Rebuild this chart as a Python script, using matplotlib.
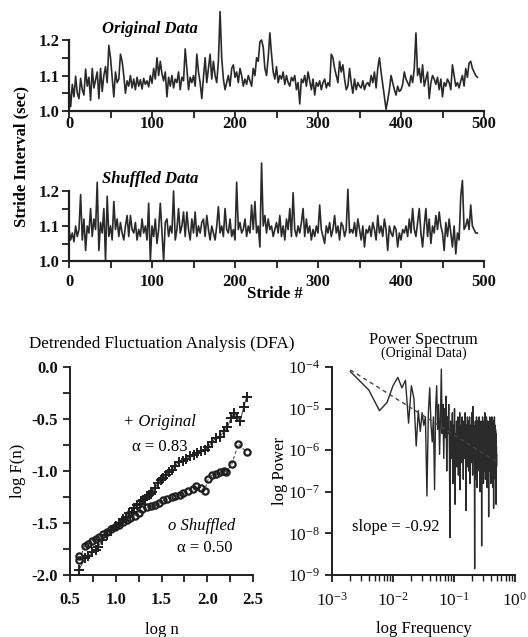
import numpy as np
import matplotlib
matplotlib.use("Agg")
import matplotlib.pyplot as plt
from matplotlib.ticker import MultipleLocator, FixedLocator, NullFormatter, LogLocator

# ---------------- data ----------------
# stride intervals in ms, every 2nd stride (0, 2, 4, ... 492)
orig_ms = [
    1068, 1012, 1075, 1040, 1098, 1050, 1035, 1092, 1060, 1045,
    1118, 1070, 1095, 1030, 1120, 1065, 1088, 1110, 1035, 1120,
    1055, 1100, 1125, 1080, 1185, 1150, 1095, 1040, 1110, 1080,
    1090, 1160, 1140, 1100, 1050, 1085, 1070, 1100, 1065, 1090,
    1060, 1095, 1070, 1088, 1062, 1092, 1075, 1085, 1068, 1100,
    1078, 1120, 1090, 1150, 1100, 1140, 1105, 1085, 1110, 1040,
    1095, 1070, 1100, 1065, 1090, 1080, 1110, 1060, 1095, 1085,
    1175, 1120, 1060, 1095, 1080, 1100, 1070, 1160, 1110, 1080,
    1035, 1095, 1150, 1080, 1120, 1160, 1090, 1140, 1100, 1080,
    1140, 1280, 1150, 1090, 1060, 1080, 1100, 1070, 1120, 1130,
    1095, 1110, 1080, 1120, 1100, 1070, 1090, 1075, 1100, 1085,
    1070, 1120, 1100, 1150, 1140, 1195, 1200, 1180, 1120, 1100,
    1150, 1220, 1160, 1110, 1090, 1125, 1080, 1100, 1090, 1110,
    1075, 1100, 1080, 1070, 1095, 1085, 1100, 1060, 1080, 1020,
    1090, 1080, 1100, 1070, 1110, 1085, 1060, 1090, 1045, 1080,
    1070, 1085, 1060, 1080, 1090, 1065, 1080, 1070, 1160, 1150,
    1120, 1100, 1080, 1140, 1110, 1130, 1090, 1060, 1070, 1120,
    1080, 1050, 1090, 1060, 1080, 1070, 1065, 1085, 1060, 1075,
    1080, 1070, 1100, 1080, 1110, 1065, 1120, 1150, 1110, 1075,
    1040, 1005, 1030, 1060, 1100, 1080, 1060, 1045, 1070, 1055,
    1060, 1075, 1110, 1090, 1080, 1070, 1100, 1080, 1120, 1220,
    1100, 1120, 1080, 1130, 1070, 1090, 1110, 1035, 1080, 1100,
    1090, 1075, 1095, 1060, 1090, 1040, 1080, 1070, 1090, 1080,
    1060, 1130, 1100, 1070, 1080, 1065, 1085, 1100, 1070, 1120,
    1095, 1135, 1140, 1120, 1110, 1100, 1095,
]
shuf_ms = [
    1090, 1060, 1080, 1055, 1100, 1070, 1090, 1190, 1060, 1120,
    1030, 1100, 1080, 1150, 1070, 1120, 1090, 1225, 1030, 1110,
    1080, 1150, 1000, 1185, 1070, 1100, 1060, 1170, 1090, 1120,
    1070, 1110, 1080, 1060, 1100, 1130, 1070, 1130, 1090, 1080,
    1110, 1060, 1090, 1070, 1120, 1080, 1100, 1060, 1165, 1000,
    1100, 1070, 1120, 1050, 1090, 1165, 1080, 1000, 1110, 1120,
    1070, 1100, 1080, 1200, 1060, 1090, 1150, 1080, 1100, 1140,
    1070, 1140, 1090, 1060, 1120, 1080, 1140, 1070, 1100, 1080,
    1110, 1120, 1070, 1130, 1090, 1060, 1100, 1080, 1060, 1100,
    1155, 1080, 1100, 1070, 1150, 1090, 1080, 1120, 1070, 1090,
    1060, 1225, 1090, 1110, 1080, 1090, 1120, 1070, 1100, 1080,
    1160, 1090, 1170, 1080, 1100, 1040, 1280, 1100, 1130, 1080,
    1120, 1090, 1100, 1070, 1090, 1110, 1080, 1130, 1070, 1100,
    1060, 1120, 1090, 1150, 1070, 1195, 1090, 1070, 1100, 1080,
    1110, 1150, 1070, 1120, 1080, 1100, 1060, 1090, 1070, 1100,
    1080, 1160, 1090, 1070, 1050, 1100, 1080, 1110, 1070, 1090,
    1130, 1080, 1100, 1060, 1110, 1100, 1070, 1090, 1205, 1080,
    1090, 1080, 1110, 1070, 1120, 1090, 1060, 1100, 1040, 1090,
    1080, 1100, 1070, 1110, 1090, 1060, 1130, 1080, 1100, 1070,
    1120, 1090, 1030, 1100, 1080, 1070, 1100, 1090, 1040, 1080,
    1060, 1090, 1080, 1100, 1070, 1120, 1080, 1150, 1090, 1070,
    1110, 1150, 1080, 1040, 1100, 1150, 1070, 1120, 1050, 1100,
    1080, 1130, 1090, 1140, 1100, 1080, 1030, 1110, 1070, 1120,
    1080, 1040, 1100, 1020, 1080, 1060, 1185, 1230, 1090, 1100,
    1120, 1090, 1160, 1100, 1090, 1080, 1080,
]
stride_step = 2

# DFA (log n, log F(n))
orig_logn = [0.60, 0.66, 0.70, 0.74, 0.78, 0.81, 0.85, 0.90, 0.95, 1.00,
             1.04, 1.08, 1.11, 1.15, 1.18, 1.20, 1.23, 1.26, 1.28, 1.30,
             1.32, 1.34, 1.36, 1.38, 1.40, 1.43, 1.46, 1.49, 1.52, 1.55,
             1.58, 1.61, 1.65, 1.69, 1.73, 1.77, 1.81, 1.85, 1.89, 1.93,
             1.97, 2.01, 2.05, 2.10, 2.14, 2.18, 2.22, 2.26, 2.29, 2.33,
             2.36, 2.40, 2.43]
orig_logF = [-1.95, -1.84, -1.82, -1.78, -1.76, -1.73, -1.66, -1.62, -1.57, -1.53,
             -1.50, -1.46, -1.44, -1.40, -1.39, -1.36, -1.33, -1.32, -1.29, -1.28,
             -1.27, -1.24, -1.23, -1.22, -1.20, -1.16, -1.12, -1.09, -1.07, -1.04,
             -1.01, -0.99, -0.95, -0.91, -0.90, -0.88, -0.86, -0.85, -0.83, -0.81,
             -0.80, -0.77, -0.72, -0.68, -0.67, -0.62, -0.58, -0.49, -0.44, -0.48,
             -0.52, -0.38, -0.29]
shuf_logn = [0.60, 0.60, 0.66, 0.70, 0.74, 0.78, 0.82, 0.86, 0.90, 0.95,
             0.99, 1.04, 1.08, 1.12, 1.16, 1.21, 1.25, 1.29, 1.34, 1.38,
             1.43, 1.47, 1.52, 1.56, 1.61, 1.65, 1.70, 1.74, 1.79, 1.84,
             1.88, 1.93, 1.97, 2.01, 2.05, 2.10, 2.14, 2.18, 2.21, 2.27,
             2.34, 2.43]
shuf_logF = [-1.82, -1.86, -1.72, -1.70, -1.67, -1.65, -1.63, -1.61, -1.59, -1.56,
             -1.54, -1.52, -1.49, -1.47, -1.45, -1.43, -1.40, -1.37, -1.35, -1.34,
             -1.33, -1.31, -1.28, -1.27, -1.25, -1.24, -1.23, -1.21, -1.19, -1.17,
             -1.14, -1.16, -1.19, -1.08, -1.04, -1.03, -1.01, -1.00, -1.01, -0.93,
             -0.74, -0.82]

# power spectrum: log10 power at frequency k/500, k = 1..250
spec_logP = [
    -4.11, -4.55, -5.05, -4.85, -4.45, -4.25, -4.50, -4.32, -5.35, -4.45,
    -4.75, -5.90, -5.05, -5.55, -5.10, -5.40, -5.20, -7.10, -5.10, -4.50,
    -5.40, -5.80, -5.20, -6.95, -5.00, -4.45, -5.50, -4.90, -6.10, -5.20,
    -4.05, -5.60, -4.90, -6.20, -5.00, -5.70, -4.70, -6.50, -5.20, -5.60,
    -4.90, -6.00, -8.10, -5.30,
    -5.5, -6.2, -5.1, -6.8, -5.4, -5.9, -5.0, -7.3, -5.6, -6.1,
    -5.3, -6.4, -5.8, -5.2, -6.6, -5.5, -6.0, -5.1, -6.95, -5.7,
    -5.4, -6.3, -5.9, -5.2, -6.1, -5.6, -6.7, -5.3, -5.9, -6.2,
    -5.5, -5.1, -6.0, -5.7, -7.45, -5.4, -6.2, -5.6, -5.2, -6.4,
    -5.8, -5.3, -6.5, -5.6, -6.0, -5.2, -6.8, -5.7, -5.4, -6.1,
    -5.9, -5.5, -6.3, -5.1, -6.0, -5.6, -6.6, -4.95, -5.8, -6.2,
    -5.4, -6.0, -5.7, -6.4, -8.85, -5.5, -6.1, -5.3, -6.7, -5.8,
    -5.6, -6.2, -5.2, -6.0, -5.5, -6.9, -5.7, -5.3, -6.3, -5.9,
    -5.4, -6.1, -5.8, -6.5, -5.2, -6.0, -5.6, -6.3, -5.5, -7.0,
    -5.7, -6.2, -5.3, -6.0, -5.8, -6.6, -5.4, -8.3, -5.9, -6.1,
    -5.5, -6.4, -5.2, -6.0, -5.7, -6.2, -5.4, -6.8, -5.6, -5.9,
    -6.3, -5.3, -6.0, -5.6, -6.5, -5.1, -5.9, -6.2, -5.5, -6.7,
    -5.8, -5.4, -6.1, -5.7, -6.4, -5.2, -6.0, -5.6, -6.3, -5.5,
    -6.9, -5.8, -5.3, -6.2, -5.7, -6.0, -5.4, -6.6, -5.6, -6.1,
    -7.6, -5.5, -6.2, -5.3, -5.9, -6.4, -5.7, -6.0, -5.2, -6.5,
    -5.8, -5.6, -6.2, -5.4, -6.0, -5.7, -6.8, -5.5, -6.1, -5.3,
    -6.3, -5.9, -5.6, -6.4, -5.2, -6.1, -5.8, -6.6, -5.5, -6.0,
    -5.7, -6.2, -5.4, -6.9, -5.9, -5.6, -6.3, -5.3, -7.4, -5.8,
    -6.0, -5.5, -6.4, -5.7, -6.1, -5.2, -6.5, -5.8, -6.0, -5.6,
    -6.3, -5.4, -6.1, -5.9, -6.7, -5.5, -6.2, -5.7, -6.0, -5.6,
    -7.3, -5.8, -6.2, -5.9, -6.4, -6.1,
]
n_samples = 500
fit_intercept = -4.07   # log10 power at f = 0.002
fit_slope = -0.92

# ---------------- style ----------------
plt.rcParams['font.family'] = ['Liberation Serif', 'DejaVu Serif']
plt.rcParams['mathtext.fontset'] = 'stix'
INK = '#1e1e1e'
W, H = 528, 637

fig = plt.figure(figsize=(W / 100, H / 100), dpi=100)


def rect(x0, x1, ytop, ybot):
    return [x0 / W, 1 - ybot / H, (x1 - x0) / W, (ybot - ytop) / H]


def style(ax, lw=1.6):
    for s in ('top', 'right'):
        ax.spines[s].set_visible(False)
    for s in ('left', 'bottom'):
        ax.spines[s].set_linewidth(lw)
        ax.spines[s].set_color(INK)
    ax.tick_params(which='both', direction='out', length=5, width=1.3, color=INK,
                   labelcolor='#111')


def ts_panel(ax, vals, label, label_y, xpad):
    v = np.array(vals) / 1000.0
    x = np.arange(len(v)) * stride_step
    ax.plot(x, v, color='#2a2a2a', lw=1.2)
    ax.set_xlim(0, 500)
    ax.set_ylim(1.0, 1.3)
    ax.spines['left'].set_bounds(1.0, 1.2)
    style(ax)
    ax.xaxis.set_major_locator(MultipleLocator(100))
    ax.xaxis.set_minor_locator(MultipleLocator(50))
    ax.yaxis.set_major_locator(FixedLocator([1.0, 1.1, 1.2]))
    ax.yaxis.set_minor_locator(FixedLocator([1.05, 1.15]))
    ax.set_yticklabels(['1.0', '1.1', '1.2'])
    for lab in ax.get_xticklabels() + ax.get_yticklabels():
        lab.set_fontweight('bold')
        lab.set_fontsize(12)
    ax.tick_params(axis='x', pad=xpad)
    ax.tick_params(axis='y', pad=2)
    ax.text(0.08, label_y, label, transform=ax.transAxes, ha='left', va='center',
            fontsize=12, fontweight='bold', style='italic')


ax1 = fig.add_axes(rect(69, 484, 4.5, 111))
ts_panel(ax1, orig_ms, 'Original Data', 0.77, -1.5)
ax2 = fig.add_axes(rect(69, 484, 156, 261))
ts_panel(ax2, shuf_ms, 'Shuffled Data', 0.78, 4.5)
fig.text(275 / W, 1 - 294 / H, 'Stride #', ha='center', va='center', fontsize=12,
         fontweight='bold')
fig.text(21 / W, 1 - 156 / H, 'Stride Interval (sec)', ha='center', va='center',
         rotation=90, fontsize=12, fontweight='bold')

# ---------------- DFA ----------------
ax3 = fig.add_axes(rect(70, 253, 367, 575))
ax3.plot(orig_logn, orig_logF, color='#555', lw=0.8, zorder=2)
ax3.plot(orig_logn, orig_logF, ls='none', marker='+', ms=7.5, mew=1.4, color=INK, zorder=3)
ax3.plot(shuf_logn, shuf_logF, color='#555', lw=0.8, ls=(0, (3, 2)), zorder=2)
ax3.plot(shuf_logn, shuf_logF, ls='none', marker='o', ms=4.5, mfc='none', mew=1.6,
         color=INK, zorder=3)
ax3.set_xlim(0.5, 2.5)
ax3.set_ylim(-2.0, 0.0)
style(ax3, lw=1.4)
ax3.xaxis.set_major_locator(FixedLocator([0.5, 1.0, 1.5, 2.0, 2.5]))
ax3.xaxis.set_minor_locator(MultipleLocator(0.25))
ax3.yaxis.set_major_locator(FixedLocator([-2.0, -1.5, -1.0, -0.5, 0.0]))
ax3.yaxis.set_minor_locator(MultipleLocator(0.25))
ax3.set_xticklabels(['0.5', '1.0', '1.5', '2.0', '2.5'])
ax3.set_yticklabels(['-2.0', '-1.5', '-1.0', '-0.5', '0.0'])
for lab in ax3.get_xticklabels() + ax3.get_yticklabels():
    lab.set_fontsize(12)
    lab.set_fontweight('bold')
ax3.tick_params(axis='x', pad=7)
ax3.set_xlabel('log n', fontsize=12, labelpad=10)
ax3.set_ylabel('log F(n)', fontsize=12, labelpad=4)
ax3.set_title('Detrended Fluctuation Analysis (DFA)', fontsize=12.3, pad=14)
ax3.text(1.48, -0.53, '+ Original', fontsize=12, style='italic', ha='center', va='center')
ax3.text(1.48, -0.77, 'α = 0.83', fontsize=12, ha='center', va='center')
ax3.text(1.94, -1.53, 'o Shuffled', fontsize=12, style='italic', ha='center', va='center')
ax3.text(1.97, -1.74, 'α = 0.50', fontsize=12, ha='center', va='center')

# ---------------- Power spectrum ----------------
ax4 = fig.add_axes(rect(332, 515, 367, 575))
k = np.arange(1, len(spec_logP) + 1)
freq = k / n_samples
power = 10.0 ** np.array(spec_logP)
ax4.plot(freq, power, color='#2a2a2a', lw=1.0)
fx = np.array([freq[0], freq[-1]])
ax4.plot(fx, 10 ** (fit_intercept + fit_slope * np.log10(fx / freq[0])), color='#444',
         lw=1.0, ls=(0, (3, 2.5)))
ax4.set_xscale('log')
ax4.set_yscale('log')
ax4.set_xlim(1e-3, 1.0)
ax4.set_ylim(1e-9, 1e-4)
style(ax4, lw=1.4)
ax4.xaxis.set_major_locator(LogLocator(base=10, numticks=10))
ax4.xaxis.set_minor_locator(LogLocator(base=10, subs=np.arange(2, 10), numticks=20))
ax4.xaxis.set_minor_formatter(NullFormatter())
ax4.yaxis.set_major_locator(LogLocator(base=10, numticks=10))
ax4.yaxis.set_minor_locator(FixedLocator([]))
ax4.tick_params(which='minor', length=4, width=1.0)
ax4.tick_params(axis='x', pad=7)
for lab in ax4.get_xticklabels() + ax4.get_yticklabels():
    lab.set_fontsize(12.5)
ax4.set_xlabel('log Frequency', fontsize=12, labelpad=8)
ax4.set_ylabel('log Power', fontsize=12, labelpad=0)
ax4.text(0.5, 1.13, 'Power Spectrum', transform=ax4.transAxes, ha='center',
         va='center', fontsize=11.8)
ax4.text(0.5, 1.065, '(Original Data)', transform=ax4.transAxes, ha='center',
         va='center', fontsize=10)
ax4.text(0.0112, 10 ** -7.85, 'slope = -0.92', fontsize=12, ha='center', va='center')

fig.savefig('out.png', dpi=100)
